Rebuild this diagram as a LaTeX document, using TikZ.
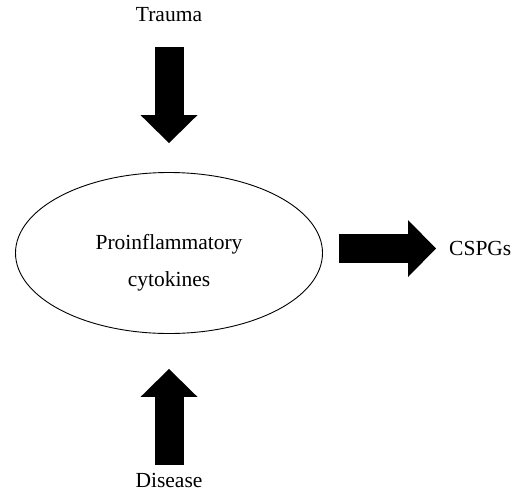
\documentclass[tikz,border=0pt]{standalone}
\usepackage{fontspec}
\setmainfont{Liberation Serif}
\usepackage{tikz}
\usetikzlibrary{positioning,arrows.meta,shapes.geometric}
\tikzset{
  lbl/.style  ={inner sep=0pt, font=\fontsize{21.5}{37}\selectfont},
  cyto/.style ={ellipse, draw=black, line width=0.9pt, minimum width=307pt,
                minimum height=161pt, align=center, inner sep=0pt,
                font=\fontsize{21.5}{37}\selectfont},
  fat/.style  ={line width=29pt,
                -{Triangle[length=28pt, width=57pt, line width=0pt 0]}},
}
\begin{document}
\begin{tikzpicture}[x=1pt, y=-1pt]
  \useasboundingbox (0,0) rectangle (516,491);
  % causes
  \node[lbl, anchor=base] (trauma) at (169,21.5) {Trauma};
  \node[lbl, anchor=base] (disease) at (169,487) {Disease};
  % hub
  \node[cyto] (cyt) at (169,253) {\rule{0pt}{35pt}Proinflammatory\\cytokines};
  % product
  \node[lbl, anchor=west] (cspg) at (449,248.5) {CSPGs};
  % block arrows
  \draw[fat, shorten <=25pt, shorten >=29pt] (trauma) -- (cyt);
  \draw[fat, shorten <=8pt, shorten >=35pt] (disease) -- (cyt);
  \draw[fat, shorten <=16pt, shorten >=13pt] (cspg.west -| cyt.east) -- (cspg.west);
\end{tikzpicture}
\end{document}
